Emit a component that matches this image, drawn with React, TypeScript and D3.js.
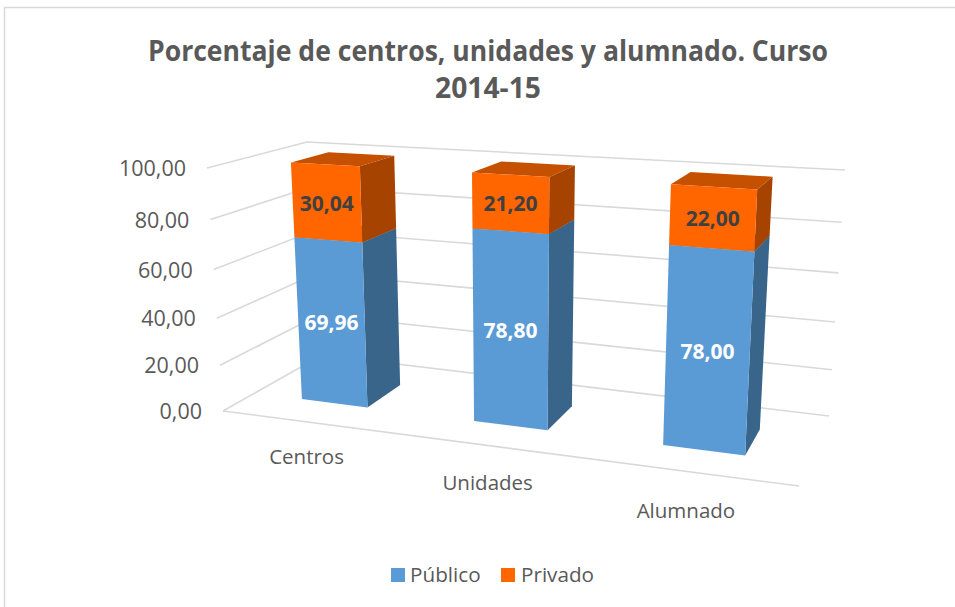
import React from "react";
import * as d3 from "d3";

const categories = ["Centros", "Unidades", "Alumnado"];
const publico = [69.96, 78.8, 78.0];
const privado = [30.04, 21.2, 22.0];
const yTicks = [0, 20, 40, 60, 80, 100];
const seriesNames = ["Público", "Privado"];

type P = [number, number];
// Perspective frame of the 3D plot: [front-left, front-right, back-right, back-left]
const floorQuad: P[] = [[223, 411], [799, 486], [829, 416], [322, 355]];
const ceilQuad: P[] = [[207, 168], [814, 205], [845, 170], [307, 142]];

function homography(q: P[]) {
  const [[x0, y0], [x1, y1], [x2, y2], [x3, y3]] = q;
  const dx1 = x1 - x2, dx2 = x3 - x2, sx = x0 - x1 + x2 - x3;
  const dy1 = y1 - y2, dy2 = y3 - y2, sy = y0 - y1 + y2 - y3;
  const det = dx1 * dy2 - dx2 * dy1;
  const g = (sx * dy2 - dx2 * sy) / det;
  const h = (dx1 * sy - sx * dy1) / det;
  const a = x1 - x0 + g * x1, b = x3 - x0 + h * x3;
  const d = y1 - y0 + g * y1, e = y3 - y0 + h * y3;
  return (u: number, w: number): P => {
    const t = g * u + h * w + 1;
    return [(a * u + b * w + x0) / t, (d * u + e * w + y0) / t];
  };
}
const floorH = homography(floorQuad);
const ceilH = homography(ceilQuad);
// height foreshortening: lower values are further from the camera
const yScale = (v: number) => {
  const t = v / 100;
  return t / (1 + 0.078 * (1 - t));
};
const xScale = d3.scaleBand<string>().domain(categories).range([0, 1]).paddingInner(0.6).paddingOuter(0.3);
// calibration of the band edges to the perspective of the picture
const uWarp = d3.scaleLinear()
  .domain([0, 0.1, 0.2333, 0.4333, 0.5667, 0.7667, 0.9, 1])
  .range([0, 0.0915, 0.2164, 0.4146, 0.548, 0.752, 0.893, 1]);
const W0 = 0.292, W1 = 0.672;
const VP_X = 513.5, VP_SPREAD = 0.052;

function project(u: number, value: number, w: number): P {
  const a = floorH(u, w), b = ceilH(u, w), t = yScale(value);
  return [a[0] + (b[0] - a[0]) * t, a[1] + (b[1] - a[1]) * t];
}
// bars: uprights converge towards the vertical vanishing point
function projectBar(u: number, value: number, w: number): P {
  const a = floorH(u, w), b = ceilH(u, w), t = yScale(value);
  return [a[0] + (a[0] - VP_X) * VP_SPREAD * t, a[1] + (b[1] - a[1]) * t];
}
const line = d3.line<P>();
const poly = (pts: P[]) => line(pts)! + "Z";

const FONT = "'Open Sans', sans-serif";
const TXT = "#595959";
const GRID = "#d9d9d9";
const BLUE = { front: "#5b9bd5", side: "#3a658a", top: "#44749f" };
const ORANGE = { front: "#ff6600", side: "#a64300", top: "#c55000" };

function Segment({ cat, lo, hi, c }: { cat: string; lo: number; hi: number; c: typeof BLUE }) {
  const u0 = uWarp(xScale(cat)!), u1 = uWarp(xScale(cat)! + xScale.bandwidth());
  const p = projectBar;
  return (
    <g>
      <path d={poly([p(u0, hi, W0), p(u1, hi, W0), p(u1, hi, W1), p(u0, hi, W1)])} fill={c.top} />
      <path d={poly([p(u1, lo, W0), p(u1, lo, W1), p(u1, hi, W1), p(u1, hi, W0)])} fill={c.side} />
      <path d={poly([p(u0, lo, W0), p(u1, lo, W0), p(u1, hi, W0), p(u0, hi, W0)])} fill={c.front} />
    </g>
  );
}

export default function App() {
  const fmt = (v: number) => v.toFixed(2).replace(".", ",");
  return (
    <svg width={955} height={607} style={{ position: "absolute", left: 0, top: 0, background: "#fff" }} fontFamily={FONT}>
      <path d="M4.5 607V7.5H955" fill="none" stroke={GRID} strokeWidth={1.5} />
      <text x={488} y={61} textAnchor="middle" fontSize={29} fontWeight={700} fill={TXT} textLength={680} lengthAdjust="spacingAndGlyphs">
        Porcentaje de centros, unidades y alumnado. Curso
      </text>
      <text x={488} y={98} textAnchor="middle" fontSize={29} fontWeight={700} fill={TXT} textLength={106} lengthAdjust="spacingAndGlyphs">
        2014-15
      </text>
      {yTicks.map((t) => (
        <g key={t}>
          <path d={line([project(0, t, 0), project(0, t, 1), project(1, t, 1)])!} fill="none" stroke={GRID} strokeWidth={1.6} />
          <text x={project(0, t, 0)[0] - 21} y={project(0, t, 0)[1] + 8} textAnchor="end" fontSize={21.5} fill={TXT}>{fmt(t)}</text>
        </g>
      ))}
      <path d={line([project(0, 0, 0), project(1, 0, 0)])!} fill="none" stroke={GRID} strokeWidth={1.6} />
      {categories.map((cat, i) => (
        <g key={cat}>
          <Segment cat={cat} lo={0} hi={publico[i]} c={BLUE} />
          <Segment cat={cat} lo={publico[i]} hi={publico[i] + privado[i]} c={ORANGE} />
        </g>
      ))}
      {categories.map((cat, i) => {
        const uc = uWarp(xScale(cat)! + xScale.bandwidth() / 2);
        const pb = projectBar(uc, publico[i] / 2, W0);
        const po = projectBar(uc, publico[i] + privado[i] / 2, W0);
        const pc = projectBar(uc, 0, W0);
        return (
          <g key={cat} textAnchor="middle" fontSize={21} fontWeight={700}>
            <text x={pb[0]} y={pb[1] + 6.5} fill="#fff">{fmt(publico[i])}</text>
            <text x={po[0]} y={po[1] + 8} fill="#404040">{fmt(privado[i])}</text>
            <text x={pc[0] - 28 + i * 5} y={pc[1] + 61 + i * 3.25} fontWeight={400} fontSize={20.5} fill={TXT}>{cat}</text>
          </g>
        );
      })}
      <rect x={391} y={568} width={14} height={14} fill={BLUE.front} />
      <text x={410} y={582} fontSize={20.7} fill={TXT}>{seriesNames[0]}</text>
      <rect x={501} y={568} width={14} height={14} fill={ORANGE.front} />
      <text x={521} y={582} fontSize={20.7} fill={TXT}>{seriesNames[1]}</text>
    </svg>
  );
}
